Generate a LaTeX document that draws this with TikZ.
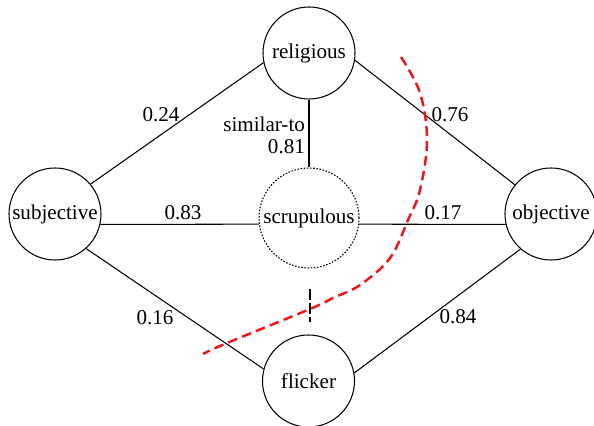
\documentclass[tikz,border=0pt]{standalone}
\usepackage{fontspec}
\setmainfont{Liberation Serif}
\usepackage{tikz}
\usetikzlibrary{arrows.meta, calc}
\definecolor{cutred}{RGB}{240,20,20}

\begin{document}
\begin{tikzpicture}[>=Stealth, font=\fontsize{12}{14}\selectfont,
    word/.style={circle, draw, line width=0.6pt, minimum size=1.84cm, inner sep=0pt},
    link/.style={line width=0.6pt},
    weight/.style={inner sep=1pt}]
  \useasboundingbox (0,0) rectangle (11.88,-8.52);

  % Words
  \node[word] (religious) at (6.18,-1.06) {religious};
  \node[word] (subjective) at (1.10,-4.28) {subjective};
  \node[word, minimum size=2.0cm, dash pattern=on 0.9pt off 0.9pt] (scrupulous) at (6.18,-4.36) {scrupulous};
  \node[word] (objective) at (11.02,-4.28) {objective};
  \node[word] (flicker) at (6.17,-7.62) {flicker};

  % Links
  \draw[link] (subjective.40) -- (religious.192);
  \draw[link] (religious.351) -- (objective.141);
  \draw[link] (religious.south) -- (scrupulous.north);
  \draw[link] (subjective.347) -- (scrupulous.187);
  \draw[link] (scrupulous.353) -- (objective.193);
  \draw[link] (subjective.312) -- (flicker.165);
  \draw[link] (flicker.10) -- (objective.229);

  % Weights
  \node[weight] (w24) at (3.22,-2.30) {0.24};
  \node[weight] (w76) at (9.00,-2.30) {0.76};
  \node[weight, anchor=east] (rel) at (6.14,-2.48) {similar-to};
  \node[weight, anchor=east] (w81) at (6.14,-2.94) {0.81};
  \node[weight] (w83) at (3.66,-4.26) {0.83};
  \node[weight] (w17) at (8.86,-4.26) {0.17};
  \node[weight] (w16) at (3.10,-6.36) {0.16};
  \node[weight] (w84) at (9.16,-6.34) {0.84};

  % Cut
  \draw[line width=1.1pt, dash pattern=on 6pt off 2pt] (6.20,-5.78) -- (6.20,-6.44);
  \draw[cutred, line width=1.4pt, dash pattern=on 5.5pt off 3pt]
    plot[smooth, tension=0.6] coordinates {(8.02,-1.14) (8.40,-1.86) (8.54,-2.80) (8.40,-3.80)
      (8.16,-4.40) (7.80,-5.16) (7.20,-5.70) (6.66,-5.96) (6.20,-6.18) (4.54,-6.86) (4.06,-7.08)};
\end{tikzpicture}
\end{document}
